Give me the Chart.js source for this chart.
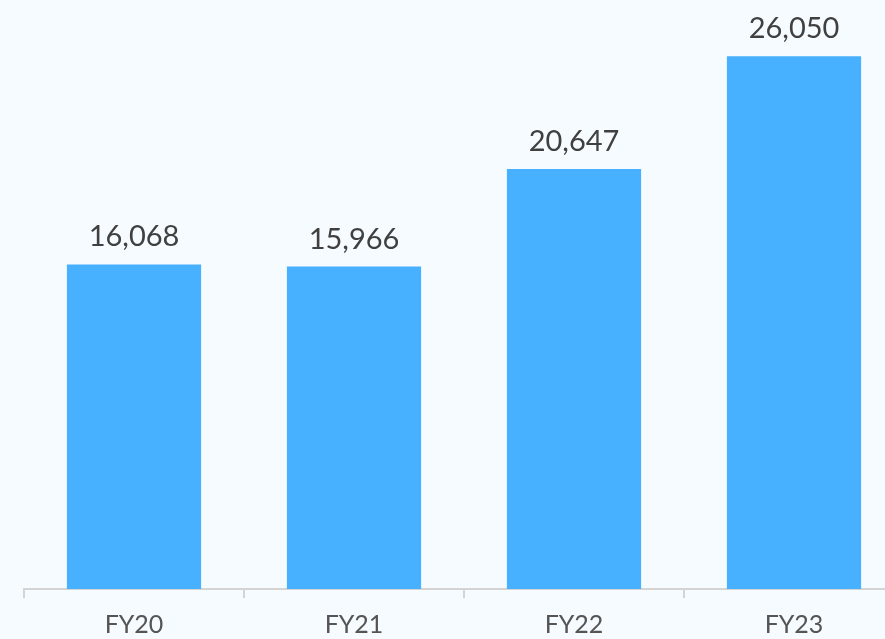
<!DOCTYPE html>
<html>
<head>
<meta charset="utf-8">
<script src="https://cdn.jsdelivr.net/npm/chart.js@4"></script>
<style>
  html, body { margin: 0; padding: 0; background: #f5fbff; overflow: hidden; }
  #wrap { position: relative; width: 904px; height: 652px; }
</style>
</head>
<body>
<div id="wrap"><canvas id="chart"></canvas></div>
<script>
// Revenue by fiscal year
const years = ['FY20', 'FY21', 'FY22', 'FY23'];
const revenue = [16068, 15966, 20647, 26050];

// draw the value above each bar
const valueLabels = {
    id: 'valueLabels',
    afterDatasetsDraw(chart) {
        const ctx = chart.ctx;
        const meta = chart.getDatasetMeta(0);
        ctx.save();
        ctx.font = '29px Lato';
        ctx.fillStyle = '#404040';
        ctx.textAlign = 'center';
        ctx.textBaseline = 'alphabetic';
        meta.data.forEach((bar, i) => {
            ctx.fillText(revenue[i].toLocaleString('en-US'), bar.x, bar.y - 18);
        });
        ctx.restore();
    }
};

new Chart(document.getElementById('chart'), {
    type: 'bar',
    data: {
        labels: years,
        datasets: [{
            data: revenue,
            backgroundColor: '#47b0ff',
            categoryPercentage: 0.61,
            barPercentage: 1
        }]
    },
    options: {
        responsive: true,
        maintainAspectRatio: false,
        animation: false,
        layout: { padding: { left: 24, right: 0, top: 0, bottom: 0 } },
        plugins: { legend: { display: false }, tooltip: { enabled: false } },
        scales: {
            y: { display: false, min: 520, max: 28740 },
            x: {
                border: { color: '#d4d4d4', width: 2 },
                grid: { offset: true, drawOnChartArea: false, color: '#d4d4d4', lineWidth: 2, tickLength: 9 },
                ticks: { color: '#555555', font: { family: 'Lato', size: 25 }, padding: 12 }
            }
        }
    },
    plugins: [valueLabels]
});
</script>
</body>
</html>
